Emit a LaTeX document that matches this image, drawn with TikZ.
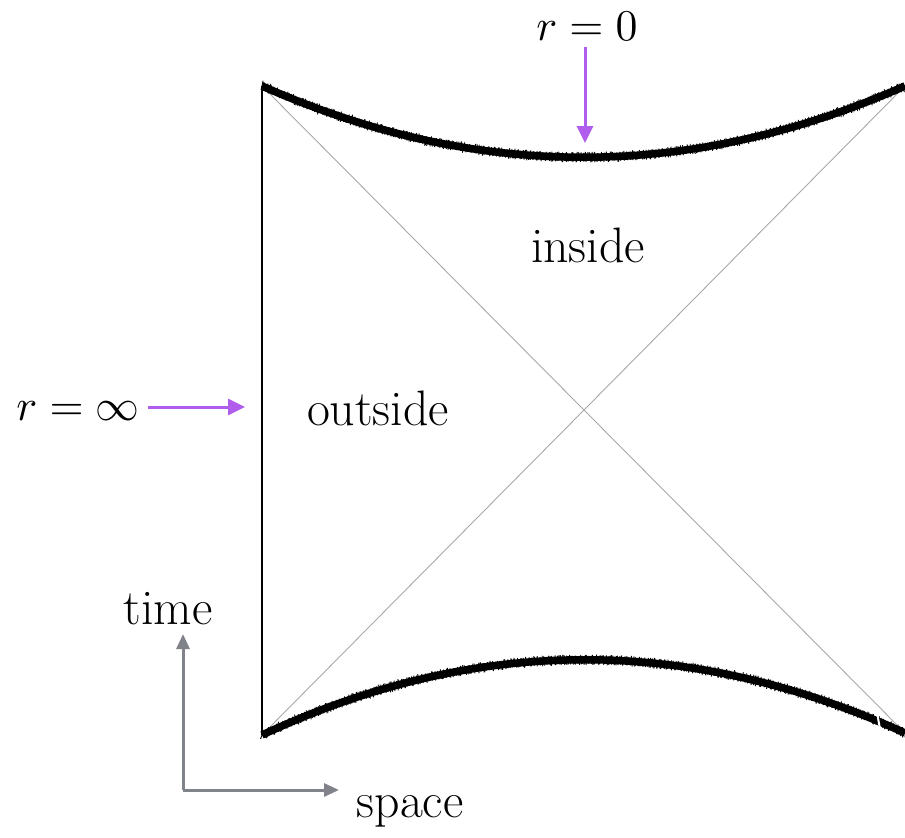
\documentclass[tikz,border=0pt]{standalone}
\usetikzlibrary{arrows.meta}
\definecolor{arrowpurple}{RGB}{176,92,236}
\definecolor{axisgray}{RGB}{128,132,138}
\definecolor{diaggray}{RGB}{168,168,168}
\begin{document}
\begin{tikzpicture}[x=1bp,y=1bp,
  lbl/.style={font=\fontsize{50}{54}\selectfont, inner sep=0pt, anchor=base},
  mlbl/.style={scale=4.4, inner sep=0pt, anchor=base},
  hair/.style={line width=0.9bp},
  singcore/.style={line width=7.5bp},
  boundary/.style={line width=2.8bp},
  diag/.style={draw=diaggray, line width=0.9bp},
  parrow/.style={draw=arrowpurple, line width=3bp, -{Triangle[length=17bp,width=16bp]}},
  garrow/.style={draw=axisgray, line width=3bp, -{Triangle[length=15bp,width=13bp]}}
]
\pgfmathsetseed{11}
\useasboundingbox (0,0) rectangle (905,-838);
% corners
\coordinate (TL) at (262,-86);
\coordinate (BL) at (262,-735);
\coordinate (TR) at (905,-86);
\coordinate (BR) at (905,-733);
% diagonals
\draw[diag] (TL) -- (BR);
\draw[diag] (BL) -- (TR);
% left boundary
\draw[boundary] (TL) -- (BL);
% singularities: solid core
\draw[singcore] (TL) .. controls (476,-181) and (690,-181) .. (TR);
\draw[singcore] (BL) .. controls (476,-635) and (690,-635) .. (BR);
% fuzzy hairs along the singularities
\foreach \ya/\yb/\yc in {-86/-181/-86, -735/-635/-733} {
  \foreach \i in {0,...,360} {
    \pgfmathsetmacro\t{\i/360}
    \pgfmathsetmacro\s{1-\t}
    \pgfmathsetmacro\px{\s*\s*\s*262+3*\s*\s*\t*476+3*\s*\t*\t*690+\t*\t*\t*905}
    \pgfmathsetmacro\py{\s*\s*\s*\ya+3*\s*\s*\t*\yb+3*\s*\t*\t*\yb+\t*\t*\t*\yc}
    \pgfmathsetmacro\dxa{rand*1.6}
    \pgfmathsetmacro\dya{3.6+rnd*1.8}
    \pgfmathsetmacro\dxb{rand*1.6}
    \pgfmathsetmacro\dyb{-3.6-rnd*1.8}
    \draw[hair] (\px,\py) -- ++(\dxa,\dya);
    \draw[hair] (\px,\py) -- ++(\dxb,\dyb);
  }
}
% small break near the lower right end
\draw[white, line width=2bp] (876,-707) -- (880,-729);
% labels
\node[mlbl] (rzero) at (587,-40) {$r=0$};
\node[mlbl] (rinf) at (78,-420) {$r=\infty$};
\node[lbl] (inside) at (588,-262) {inside};
\node[lbl] (outside) at (378,-425) {outside};
\node[lbl] (time) at (168,-624) {time};
\node[lbl] (space) at (410,-817) {space};
% arrows
\coordinate (rzeroStart) at (585,-47);
\coordinate (rzeroEnd) at (585,-143);
\coordinate (rinfStart) at (148,-407);
\coordinate (rinfEnd) at (245,-407);
\draw[parrow] (rzeroStart) -- (rzeroEnd);
\draw[parrow] (rinfStart) -- (rinfEnd);
% axes
\coordinate (origin) at (183,-790);
\coordinate (timeEnd) at (183,-634);
\coordinate (spaceEnd) at (339,-790);
\draw[garrow] (origin) -- (timeEnd);
\draw[garrow] (origin) -- (spaceEnd);
\end{tikzpicture}
\end{document}
